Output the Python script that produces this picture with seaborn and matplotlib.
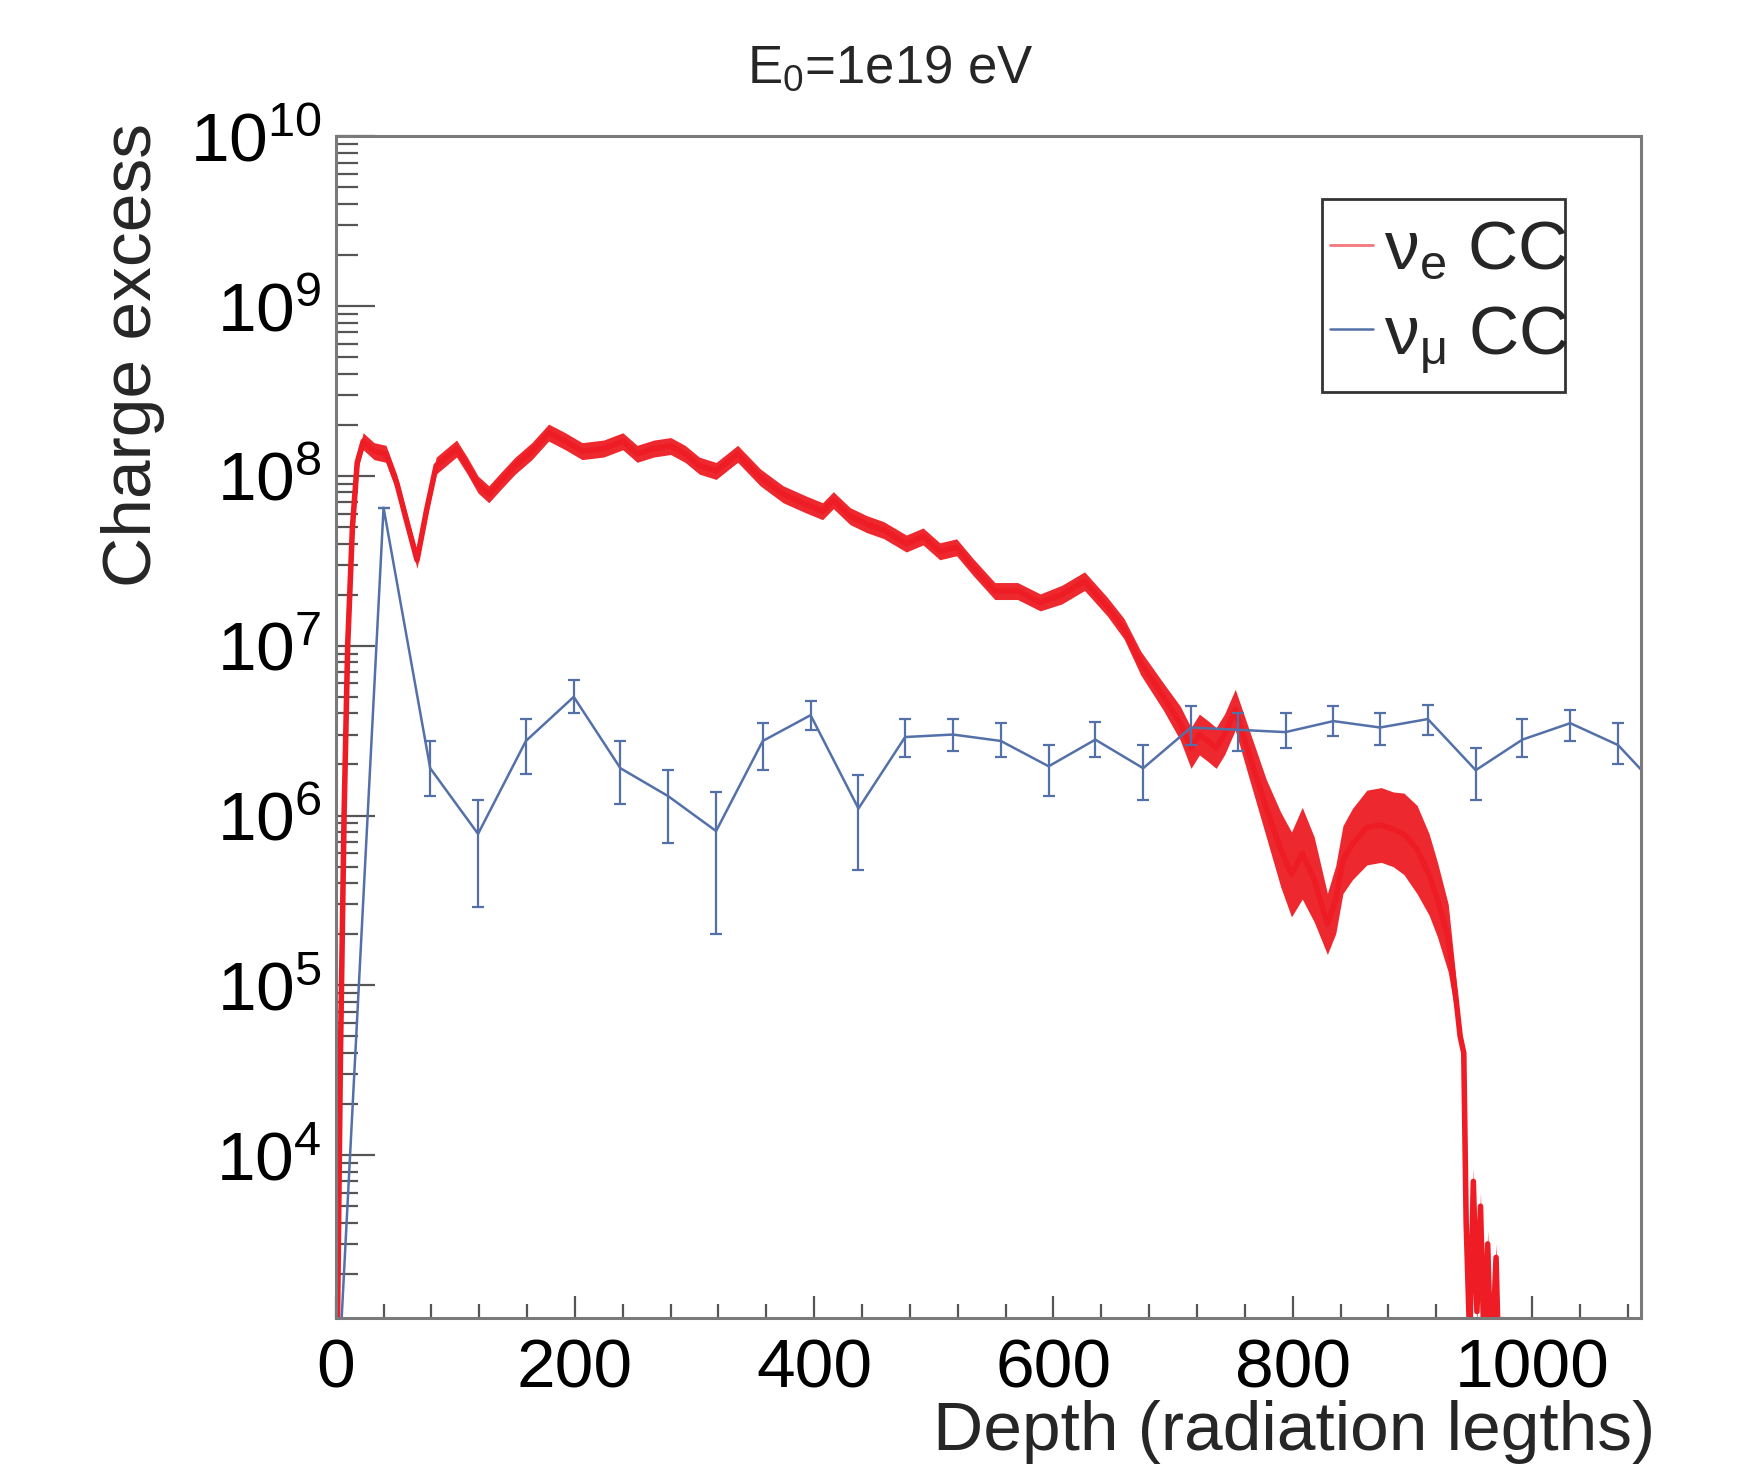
import numpy as np
import pandas as pd
import seaborn as sns
import matplotlib
matplotlib.use('Agg')
from matplotlib import pyplot as plt
from matplotlib.lines import Line2D
from matplotlib.patches import Rectangle
from matplotlib.ticker import MultipleLocator, FixedLocator, LogLocator, NullFormatter

# nu_e CC: dense histogram
red_depth = [1, 4, 7, 10, 14, 18,
             23, 32, 42, 51, 60, 68, 76, 84, 93, 101, 110, 119, 128, 139, 150, 164, 178, 192, 206,
             224, 240, 252, 266, 280, 292, 304, 318, 336, 355, 374, 393, 407, 416, 430, 444, 458,
             477, 491, 505, 519, 533, 551, 570, 589, 607, 626, 645, 659, 673, 692,
             706, 715, 722, 729, 736, 743, 752, 762, 778, 790, 799, 808, 818, 829, 836, 842,
             850, 862, 874, 884, 893, 904, 914, 921, 930,
             936, 940, 943, 945, 948, 951, 954, 957, 960, 963, 966, 970, 975]
red_vals = [5e2, 4e4, 1e6, 1e7, 5e7, 1.2e8,
            1.6e8, 1.4e8, 1.35e8, 9.1e7, 5.2e7, 3.2e7, 6.3e7, 1.15e8, 1.3e8, 1.45e8, 1.15e8, 8.9e7,
            7.8e7, 9.5e7, 1.15e8, 1.4e8, 1.8e8, 1.6e8, 1.4e8,
            1.45e8, 1.6e8, 1.35e8, 1.45e8, 1.5e8, 1.35e8, 1.15e8, 1.07e8, 1.35e8, 9.8e7, 7.8e7,
            6.8e7, 6.2e7, 7.2e7, 5.8e7, 5.2e7, 4.8e7,
            4.0e7, 4.4e7, 3.6e7, 3.8e7, 2.9e7, 2.1e7, 2.1e7, 1.8e7, 2.0e7, 2.4e7, 1.7e7, 1.26e7,
            7.9e6, 5.0e6,
            3.5e6, 2.5e6, 3.0e6, 2.75e6, 2.5e6, 3.0e6, 4.2e6, 2.5e6, 1.1e6, 6.3e5, 4.5e5, 6.0e5,
            4.2e5, 2.3e5, 3.2e5, 5.5e5,
            6.8e5, 8.5e5, 8.8e5, 8.3e5, 7.8e5, 6.3e5, 4.5e5, 3.2e5, 1.9e5,
            9e4, 5e4, 4e4, 4e3, 8e2, 7e3, 1.2e3, 5e3, 7e2, 3e3, 5e2, 2.5e3, 1e2]
# half width of the error band, in decades
red_err_dex = [0.05, 0.05, 0.05, 0.05, 0.05, 0.05,
               0.05, 0.05, 0.05, 0.05, 0.05, 0.05, 0.05, 0.05, 0.05, 0.05, 0.05, 0.05,
               0.05, 0.05, 0.05, 0.05, 0.05, 0.05, 0.05,
               0.05, 0.05, 0.05, 0.05, 0.05, 0.05, 0.05, 0.05, 0.05, 0.05, 0.05,
               0.05, 0.05, 0.05, 0.05, 0.05, 0.05,
               0.05, 0.05, 0.05, 0.05, 0.05, 0.05, 0.05, 0.05, 0.055, 0.055, 0.055, 0.06,
               0.07, 0.08,
               0.10, 0.12, 0.12, 0.12, 0.12, 0.12, 0.12, 0.14, 0.17, 0.22, 0.25, 0.27,
               0.25, 0.18, 0.2, 0.2,
               0.21, 0.22, 0.22, 0.22, 0.24, 0.26, 0.24, 0.22, 0.2,
               0.12, 0.06, 0.05, 0.08, 0.08, 0.08, 0.08, 0.08, 0.08, 0.08, 0.08, 0.08, 0.08]

# nu_mu CC: coarse bins with error bars
blue_depth = [0, 40, 79, 119, 159, 199, 238, 278, 318, 357, 397, 437, 476, 516, 556, 596,
              635, 675, 715, 754, 794, 834, 873, 913, 953, 992, 1032, 1072, 1112]
blue_vals = [2.3e2, 6.5e7, 1.9e6, 7.8e5, 2.75e6, 5.0e6, 1.9e6, 1.3e6, 8.1e5, 2.75e6, 3.9e6,
             1.1e6, 2.9e6, 3.0e6, 2.75e6, 1.95e6, 2.8e6, 1.9e6, 3.3e6, 3.2e6, 3.1e6, 3.6e6,
             3.3e6, 3.7e6, 1.85e6, 2.8e6, 3.5e6, 2.6e6, 1.3e6]
blue_hi = [2.3e2, 6.5e7, 2.75e6, 1.23e6, 3.7e6, 6.3e6, 2.75e6, 1.85e6, 1.38e6, 3.5e6, 4.7e6,
           1.74e6, 3.7e6, 3.7e6, 3.5e6, 2.6e6, 3.55e6, 2.6e6, 4.4e6, 4.0e6, 4.0e6, 4.4e6,
           4.0e6, 4.5e6, 2.5e6, 3.7e6, 4.2e6, 3.5e6, 1.3e6]
blue_lo = [2.3e2, 6.5e7, 1.3e6, 2.9e5, 1.75e6, 4.0e6, 1.17e6, 6.9e5, 2.0e5, 1.85e6, 3.2e6,
           4.8e5, 2.2e6, 2.4e6, 2.2e6, 1.3e6, 2.2e6, 1.23e6, 2.6e6, 2.4e6, 2.5e6, 2.95e6,
           2.6e6, 3.0e6, 1.23e6, 2.2e6, 2.75e6, 2.0e6, 1.3e6]

y_major = [1e4, 1e5, 1e6, 1e7, 1e8, 1e9, 1e10]

red_label = 'ν$_{e}$ CC'
blue_label = 'ν$_{μ}$ CC'
red_color = '#ee1c24'
blue_color = '#5470a8'
frame_color = '#7a7a7a'

sns.set_style('ticks')
plt.rcParams['font.family'] = ['Liberation Sans', 'DejaVu Sans']
plt.rcParams['mathtext.default'] = 'regular'

fig = plt.figure(figsize=(17.53, 14.66), dpi=100)
ax = fig.add_axes([0.1915, 0.101, 0.7445, 0.806])
ax.set_yscale('log')

red = pd.DataFrame({'depth': red_depth, 'val': red_vals, 'err': red_err_dex})
red['lo'] = red['val'] / 10 ** red['err']
red['hi'] = red['val'] * 10 ** red['err']
ax.fill_between(red['depth'], red['lo'], red['hi'], color=red_color, lw=0, alpha=0.95)
sns.lineplot(data=red, x='depth', y='val', color=red_color, lw=4, ax=ax,
             sort=False, estimator=None)

blue = pd.DataFrame({'depth': blue_depth, 'val': blue_vals, 'lo': blue_lo, 'hi': blue_hi})
sns.lineplot(data=blue, x='depth', y='val', color=blue_color, lw=1.8, ax=ax,
             sort=False, estimator=None)
ax.errorbar(blue['depth'], blue['val'],
            yerr=[blue['val'] - blue['lo'], blue['hi'] - blue['val']],
            fmt='none', ecolor=blue_color, elinewidth=1.6, capsize=4, capthick=1.6)

ax.set_xlim(0, 1091)
ax.set_ylim(1.1e3, 1e10)

ax.xaxis.set_major_locator(MultipleLocator(200))
ax.xaxis.set_minor_locator(MultipleLocator(40))
ax.yaxis.set_major_locator(FixedLocator(y_major))
ax.yaxis.set_minor_locator(LogLocator(base=10, subs=np.arange(2, 10), numticks=100))
ax.yaxis.set_minor_formatter(NullFormatter())

ax.tick_params(axis='both', which='both', direction='in', color='#555555',
               top=False, right=False, labelsize=50, labelcolor='black')
ax.tick_params(axis='x', which='major', length=16, width=1.6, pad=14)
ax.tick_params(axis='x', which='minor', length=10, width=1.6)
ax.tick_params(axis='y', which='major', length=28, width=1.6, pad=10)
ax.tick_params(axis='y', which='minor', length=16, width=1.6)
for s in ax.spines.values():
    s.set_color(frame_color)
    s.set_linewidth(2.2)

ax.set_xlabel('Depth (radiation legths)', fontsize=50, loc='right')
ax.xaxis.set_label_coords(0.944, 0.011, transform=fig.transFigure)
ax.xaxis.label.set_va('baseline')
ax.set_ylabel('Charge excess', fontsize=50, loc='top')
ax.yaxis.set_label_coords(-0.131, 1.011)

fig.text(0.508, 0.953, 'E$_{0}$=1e19 eV', fontsize=38, ha='center', va='center')

# legend box drawn by hand so the text can touch the right border, as in the original
ax.add_patch(Rectangle((0.756, 0.784), 0.186, 0.163, transform=ax.transAxes,
                       facecolor='white', edgecolor='#333333', lw=2, zorder=5))
handles = [Line2D([], [], color=red_color, lw=2, alpha=0.6),
           Line2D([], [], color=blue_color, lw=1.8)]
leg = ax.legend(handles, [red_label, blue_label], loc='upper left',
                bbox_to_anchor=(0.7566, 0.936), fontsize=50, frameon=False,
                handlelength=0.62, handletextpad=0.16, borderpad=0.1, labelspacing=0.3,
                borderaxespad=0)
leg.set_zorder(6)

fig.savefig('out.png', dpi=100, facecolor='white')
